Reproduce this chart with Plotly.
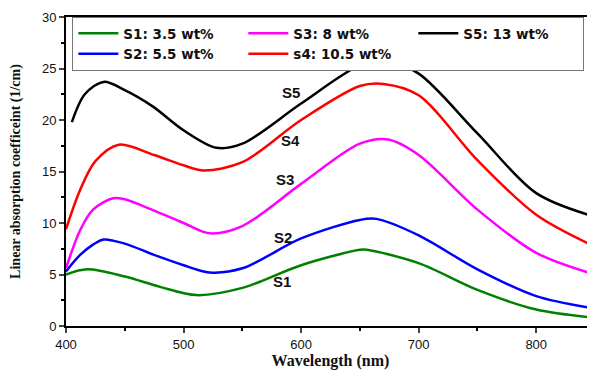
import plotly.graph_objects as go

# Wavelength (nm) and absorption coefficient (1/cm) per sample
s1_x = [400, 418, 450, 480, 511, 550, 600, 650, 656, 700, 750, 800, 850]
s1_y = [5.0, 5.5, 4.8, 3.8, 3.0, 3.7, 5.9, 7.4, 7.4, 6.1, 3.5, 1.6, 0.8]

s2_x = [400, 412, 423, 432, 450, 475, 500, 522, 550, 600, 650, 664, 700, 750, 800, 850]
s2_y = [5.3, 6.9, 7.9, 8.4, 8.0, 6.9, 5.9, 5.2, 5.6, 8.5, 10.3, 10.4, 8.8, 5.5, 2.9, 1.7]

s3_x = [400, 412, 423, 440, 450, 475, 500, 522, 550, 600, 650, 674, 700, 750, 800, 850]
s3_y = [5.6, 9.3, 11.3, 12.4, 12.3, 11.2, 10.0, 9.0, 9.7, 13.8, 17.7, 18.1, 16.6, 11.3, 7.1, 5.0]

s4_x = [400, 412, 425, 445, 475, 500, 517, 550, 600, 650, 670, 700, 750, 800, 850]
s4_y = [9.4, 13.2, 16.0, 17.6, 16.6, 15.6, 15.1, 15.9, 20.0, 23.3, 23.5, 22.4, 16.1, 10.8, 7.7]

s5_x = [405, 416, 432, 450, 474, 500, 528, 550, 600, 650, 673, 700, 750, 800, 850]
s5_y = [19.8, 22.5, 23.7, 22.9, 21.3, 19.0, 17.3, 17.7, 21.6, 25.3, 25.7, 24.5, 18.7, 12.9, 10.6]

series_names = ["S1: 3.5 wt%", "S2: 5.5 wt%", "S3: 8 wt%", "s4: 10.5 wt%", "S5: 13 wt%"]
series_colors = ["#008000", "#0000FF", "#FF00FF", "#FF0000", "#000000"]
legend_ranks = [1, 4, 2, 5, 3]

label_texts = ["S1", "S2", "S3", "S4", "S5"]
label_x = [584, 585, 586, 591, 591]
label_y = [4.3, 8.6, 14.2, 18.0, 22.7]

x_ticks = [400, 500, 600, 700, 800]
y_ticks = [0, 5, 10, 15, 20, 25, 30]

xs = [s1_x, s2_x, s3_x, s4_x, s5_x]
ys = [s1_y, s2_y, s3_y, s4_y, s5_y]

fig = go.Figure()
for x, y, name, col, rk in zip(xs, ys, series_names, series_colors, legend_ranks):
    fig.add_trace(go.Scatter(x=x, y=y, name="<b>" + name + "</b>", mode="lines",
                             line=dict(color=col, width=2.5, shape="spline", smoothing=0.9),
                             legendrank=rk))

for t, lx, ly in zip(label_texts, label_x, label_y):
    fig.add_annotation(x=lx, y=ly, text="<b>" + t + "</b>", showarrow=False,
                       font=dict(family="Liberation Sans, Arial", size=15, color="#111"),
                       xanchor="center", yanchor="middle")

fig.update_layout(
    width=587, height=363,
    margin=dict(l=58, r=0, t=9, b=45),
    paper_bgcolor="white", plot_bgcolor="white",
    font=dict(family="Liberation Sans, Arial", size=13, color="#111"),
    showlegend=True,
    legend=dict(orientation="h", x=0.012, y=1.0, xanchor="left", yanchor="top",
                bgcolor="white", bordercolor="#777", borderwidth=1,
                entrywidth=115, entrywidthmode="pixels",
                font=dict(family="DejaVu Sans", size=13.5, color="#111"),
                tracegroupgap=0, itemwidth=40),
    xaxis=dict(range=[400, 850], tickvals=x_ticks, ticks="outside", ticklen=5, tickwidth=1.5,
               showline=True, linecolor="black", linewidth=2, mirror=True,
               showgrid=False, zeroline=False, automargin=False,
               tickprefix="<b>", ticksuffix="</b>",
               tickfont=dict(family="Liberation Sans, Arial", size=13, color="#111"),
               minor=dict(dtick=50, ticks="outside", ticklen=3, tickcolor="black", tickwidth=1.5),
               title=dict(text="<b>Wavelength (nm)</b>", standoff=4,
                          font=dict(family="Liberation Serif, Times New Roman", size=16, color="#111"))),
    yaxis=dict(range=[0, 30], tickvals=y_ticks, ticks="outside", ticklen=5, tickwidth=1.5,
               showline=True, linecolor="black", linewidth=2,
               showgrid=False, zeroline=False, automargin=False,
               tickprefix="<b>", ticksuffix="</b>",
               tickfont=dict(family="Liberation Sans, Arial", size=13, color="#111"),
               minor=dict(dtick=2.5, ticks="outside", ticklen=3, tickcolor="black", tickwidth=1.5),
               title=dict(text="<b>Linear absorption coefficeint (1/cm)</b>", standoff=22,
                          font=dict(family="Liberation Serif, Times New Roman", size=14, color="#111"))),
)

fig.write_html("out.html")
